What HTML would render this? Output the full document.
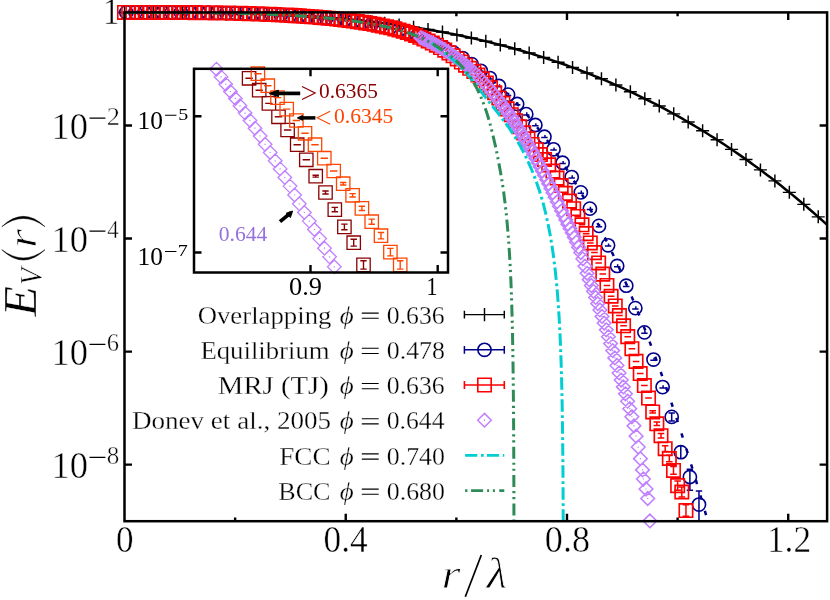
<!DOCTYPE html><html><head><meta charset="utf-8"><style>html,body{margin:0;padding:0;background:#fff}svg{display:block;will-change:transform}</style></head><body><svg width="830" height="600" viewBox="0 0 830 600">
<rect width="830" height="600" fill="#fff"/>
<defs><clipPath id="cp"><rect x="124.5" y="12.4" width="702.6" height="508.80000000000007"/></clipPath>
<clipPath id="ci"><rect x="194" y="68.8" width="254" height="203.7"/></clipPath></defs>
<path d="M345.74 521.2v-7.5M345.74 12.4v7.5M566.98 521.2v-7.5M566.98 12.4v7.5M788.22 521.2v-7.5M788.22 12.4v7.5M235.12 521.2v-3.8M235.12 12.4v3.8M456.36 521.2v-3.8M456.36 12.4v3.8M677.6 521.2v-3.8M677.6 12.4v3.8M124.5 125.46h7.5M827.1 125.46h-7.5M124.5 238.52h7.5M827.1 238.52h-7.5M124.5 351.58h7.5M827.1 351.58h-7.5M124.5 464.64h7.5M827.1 464.64h-7.5" stroke="#000" stroke-width="2.4" fill="none"/>
<g clip-path="url(#cp)"><path d="M124.5 12.4 L128.03 12.4 L131.56 12.4 L135.09 12.4 L138.62 12.4 L142.15 12.4 L145.68 12.41 L149.21 12.41 L152.75 12.41 L156.28 12.42 L159.81 12.43 L163.34 12.44 L166.87 12.45 L170.4 12.46 L173.93 12.47 L177.46 12.49 L180.99 12.51 L184.52 12.53 L188.05 12.56 L191.58 12.58 L195.11 12.62 L198.64 12.65 L202.17 12.69 L205.71 12.73 L209.24 12.77 L212.77 12.82 L216.3 12.87 L219.83 12.93 L223.36 12.99 L226.89 13.06 L230.42 13.13 L233.95 13.2 L237.48 13.28 L241.01 13.37 L244.54 13.46 L248.07 13.56 L251.6 13.66 L255.13 13.77 L258.66 13.88 L262.2 14 L265.73 14.12 L269.26 14.26 L272.79 14.4 L276.32 14.54 L279.85 14.7 L283.38 14.86 L286.91 15.02 L290.44 15.2 L293.97 15.38 L297.5 15.57 L301.03 15.77 L304.56 15.98 L308.09 16.19 L311.62 16.41 L315.16 16.64 L318.69 16.88 L322.22 17.13 L325.75 17.39 L329.28 17.66 L332.81 17.94 L336.34 18.22 L339.87 18.52 L343.4 18.82 L346.93 19.14 L350.46 19.47 L353.99 19.8 L357.52 20.15 L361.05 20.51 L364.58 20.87 L368.12 21.25 L371.65 21.64 L375.18 22.05 L378.71 22.46 L382.24 22.88 L385.77 23.32 L389.3 23.77 L392.83 24.23 L396.36 24.7 L399.89 25.19 L403.42 25.69 L406.95 26.2 L410.48 26.72 L414.01 27.26 L417.54 27.81 L421.07 28.37 L424.61 28.95 L428.14 29.54 L431.67 30.15 L435.2 30.77 L438.73 31.4 L442.26 32.05 L445.79 32.71 L449.32 33.39 L452.85 34.08 L456.38 34.79 L459.91 35.51 L463.44 36.25 L466.97 37 L470.5 37.77 L474.03 38.55 L477.57 39.35 L481.1 40.17 L484.63 41 L488.16 41.85 L491.69 42.72 L495.22 43.6 L498.75 44.5 L502.28 45.42 L505.81 46.35 L509.34 47.3 L512.87 48.27 L516.4 49.26 L519.93 50.27 L523.46 51.29 L526.99 52.33 L530.53 53.39 L534.06 54.47 L537.59 55.57 L541.12 56.68 L544.65 57.82 L548.18 58.97 L551.71 60.15 L555.24 61.34 L558.77 62.55 L562.3 63.79 L565.83 65.04 L569.36 66.31 L572.89 67.61 L576.42 68.92 L579.95 70.26 L583.48 71.61 L587.02 72.99 L590.55 74.39 L594.08 75.81 L597.61 77.25 L601.14 78.71 L604.67 80.2 L608.2 81.7 L611.73 83.23 L615.26 84.78 L618.79 86.36 L622.32 87.95 L625.85 89.57 L629.38 91.21 L632.91 92.88 L636.44 94.57 L639.98 96.28 L643.51 98.01 L647.04 99.77 L650.57 101.56 L654.1 103.36 L657.63 105.2 L661.16 107.05 L664.69 108.93 L668.22 110.84 L671.75 112.77 L675.28 114.72 L678.81 116.7 L682.34 118.71 L685.87 120.74 L689.4 122.8 L692.94 124.88 L696.47 126.99 L700 129.12 L703.53 131.29 L707.06 133.47 L710.59 135.69 L714.12 137.93 L717.65 140.2 L721.18 142.49 L724.71 144.82 L728.24 147.17 L731.77 149.55 L735.3 151.95 L738.83 154.39 L742.36 156.85 L745.89 159.34 L749.43 161.86 L752.96 164.4 L756.49 166.98 L760.02 169.59 L763.55 172.22 L767.08 174.88 L770.61 177.58 L774.14 180.3 L777.67 183.05 L781.2 185.83 L784.73 188.65 L788.26 191.49 L791.79 194.36 L795.32 197.27 L798.85 200.2 L802.39 203.17 L805.92 206.16 L809.45 209.19 L812.98 212.25 L816.51 215.34 L820.04 218.46 L823.57 221.61 L827.1 224.8" fill="none" stroke="#000" stroke-width="2.5"/></g>
<path d="M118 12.4h13M124.5 5.9v13M132.45 12.4h13M138.95 5.9v13M146.91 12.41h13M153.41 5.91v13M161.36 12.45h13M167.86 5.95v13M175.81 12.52h13M182.31 6.02v13M190.26 12.63h13M196.76 6.13v13M204.72 12.8h13M211.22 6.3v13M219.17 13.03h13M225.67 6.53v13M233.62 13.35h13M240.12 6.85v13M248.08 13.75h13M254.58 7.25v13M262.53 14.25h13M269.03 7.75v13M276.98 14.86h13M283.48 8.36v13M291.44 15.59h13M297.94 9.09v13M305.89 16.46h13M312.39 9.96v13M320.34 17.47h13M326.84 10.97v13M334.79 18.64h13M341.29 12.14v13M349.25 19.97h13M355.75 13.47v13M363.7 21.48h13M370.2 14.98v13M378.15 23.18h13M384.65 16.68v13M392.61 25.08h13M399.11 18.58v13M407.06 27.19h13M413.56 20.69v13M421.51 29.52h13M428.01 23.02v13M435.97 32.09h13M442.47 25.59v13M450.42 34.9h13M456.92 28.4v13M464.87 37.96h13M471.37 31.46v13M479.32 41.29h13M485.82 34.79v13M493.78 44.9h13M500.28 38.4v13M508.23 48.79h13M514.73 42.29v13M522.68 52.99h13M529.18 46.49v13M537.14 57.49h13M543.64 50.99v13M551.59 62.32h13M558.09 55.82v13M566.04 67.48h13M572.54 60.98v13M580.5 72.98h13M587 66.48v13M594.95 78.84h13M601.45 72.34v13M609.4 85.07h13M615.9 78.57v13M623.86 91.67h13M630.36 85.17v13M638.31 98.66h13M644.81 92.16v13M652.76 106.05h13M659.26 99.55v13M667.21 113.85h13M673.71 107.35v13M681.67 122.07h13M688.17 115.57v13M696.12 130.73h13M702.62 124.23v13M710.57 139.83h13M717.07 133.33v13M725.03 149.38h13M731.53 142.88v13M739.48 159.4h13M745.98 152.9v13M753.93 169.89h13M760.43 163.39v13M768.38 180.88h13M774.88 174.38v13M782.84 192.36h13M789.34 185.86v13M797.29 204.35h13M803.79 197.85v13M811.74 216.87h13M818.24 210.37v13" stroke="#000" stroke-width="1.45" fill="none"/>
<g clip-path="url(#cp)"><path d="M124.5 12.4 L125.99 12.4 L127.48 12.4 L128.98 12.4 L130.47 12.4 L131.96 12.4 L133.45 12.4 L134.95 12.4 L136.44 12.4 L137.93 12.4 L139.42 12.4 L140.92 12.4 L142.41 12.4 L143.9 12.4 L145.39 12.41 L146.89 12.41 L148.38 12.41 L149.87 12.41 L151.36 12.41 L152.86 12.41 L154.35 12.42 L155.84 12.42 L157.33 12.42 L158.83 12.42 L160.32 12.43 L161.81 12.43 L163.3 12.44 L164.8 12.44 L166.29 12.44 L167.78 12.45 L169.27 12.45 L170.77 12.46 L172.26 12.47 L173.75 12.47 L175.24 12.48 L176.74 12.49 L178.23 12.49 L179.72 12.5 L181.21 12.51 L182.71 12.52 L184.2 12.53 L185.69 12.54 L187.18 12.55 L188.68 12.56 L190.17 12.57 L191.66 12.58 L193.15 12.6 L194.65 12.61 L196.14 12.62 L197.63 12.64 L199.12 12.65 L200.62 12.67 L202.11 12.69 L203.6 12.7 L205.09 12.72 L206.59 12.74 L208.08 12.76 L209.57 12.78 L211.06 12.8 L212.56 12.82 L214.05 12.84 L215.54 12.86 L217.03 12.89 L218.53 12.91 L220.02 12.94 L221.51 12.96 L223 12.99 L224.5 13.02 L225.99 13.04 L227.48 13.07 L228.97 13.1 L230.47 13.13 L231.96 13.17 L233.45 13.2 L234.94 13.23 L236.44 13.27 L237.93 13.3 L239.42 13.34 L240.91 13.38 L242.41 13.42 L243.9 13.46 L245.39 13.5 L246.88 13.54 L248.38 13.58 L249.87 13.63 L251.36 13.67 L252.85 13.72 L254.35 13.77 L255.84 13.82 L257.33 13.87 L258.82 13.92 L260.32 13.97 L261.81 14.03 L263.3 14.08 L264.79 14.14 L266.29 14.2 L267.78 14.26 L269.27 14.32 L270.76 14.38 L272.26 14.44 L273.75 14.51 L275.24 14.58 L276.73 14.64 L278.23 14.71 L279.72 14.79 L281.21 14.86 L282.7 14.93 L284.2 15.01 L285.69 15.09 L287.18 15.17 L288.67 15.25 L290.17 15.33 L291.66 15.42 L293.15 15.5 L294.64 15.59 L296.14 15.68 L297.63 15.78 L299.12 15.87 L300.61 15.97 L302.11 16.07 L303.6 16.17 L305.09 16.27 L306.58 16.37 L308.08 16.48 L309.57 16.59 L311.06 16.7 L312.55 16.82 L314.05 16.93 L315.54 17.05 L317.03 17.17 L318.52 17.3 L320.02 17.42 L321.51 17.55 L323 17.68 L324.49 17.82 L325.98 17.95 L327.48 18.09 L328.97 18.24 L330.46 18.38 L331.95 18.53 L333.45 18.68 L334.94 18.84 L336.43 19 L337.92 19.16 L339.42 19.32 L340.91 19.49 L342.4 19.66 L343.89 19.84 L345.39 20.02 L346.88 20.2 L348.37 20.39 L349.86 20.58 L351.36 20.77 L352.85 20.97 L354.34 21.18 L355.83 21.38 L357.33 21.6 L358.82 21.81 L360.31 22.04 L361.8 22.26 L363.3 22.49 L364.79 22.73 L366.28 22.97 L367.77 23.22 L369.27 23.47 L370.76 23.73 L372.25 24 L373.74 24.27 L375.24 24.54 L376.73 24.83 L378.22 25.12 L379.71 25.42 L381.21 25.72 L382.7 26.03 L384.19 26.35 L385.68 26.68 L387.18 27.02 L388.67 27.36 L390.16 27.72 L391.65 28.08 L393.15 28.45 L394.64 28.84 L396.13 29.23 L397.62 29.63 L399.12 30.04 L400.61 30.46 L402.1 30.89 L403.59 31.32 L405.09 31.77 L406.58 32.23 L408.07 32.7 L409.56 33.18 L411.06 33.67 L412.55 34.17 L414.04 34.68 L415.53 35.21 L417.03 35.74 L418.52 36.29 L420.01 36.84 L421.5 37.41 L423 37.99 L424.49 38.58 L425.98 39.18 L427.47 39.8 L428.97 40.43 L430.46 41.07 L431.95 41.72 L433.44 42.38 L434.94 43.06 L436.43 43.75 L437.92 44.45 L439.41 45.17 L440.91 45.9 L442.4 46.64 L443.89 47.4 L445.38 48.17 L446.88 48.95 L448.37 49.75 L449.86 50.56 L451.35 51.39 L452.85 52.23 L454.34 53.08 L455.83 53.95 L457.32 54.83 L458.82 55.73 L460.31 56.65 L461.8 57.58 L463.29 58.52 L464.79 59.48 L466.28 60.46 L467.77 61.45 L469.26 62.45 L470.76 63.48 L472.25 64.52 L473.74 65.57 L475.23 66.64 L476.73 67.73 L478.22 68.84 L479.71 69.96 L481.2 71.1 L482.7 72.25 L484.19 73.43 L485.68 74.62 L487.17 75.82 L488.67 77.05 L490.16 78.29 L491.65 79.55 L493.14 80.83 L494.64 82.13 L496.13 83.44 L497.62 84.78 L499.11 86.13 L500.61 87.5 L502.1 88.89 L503.59 90.3 L505.08 91.73 L506.58 93.17 L508.07 94.64 L509.56 96.13 L511.05 97.63 L512.55 99.16 L514.04 100.7 L515.53 102.27 L517.02 103.85 L518.52 105.46 L520.01 107.09 L521.5 108.73 L522.99 110.4 L524.48 112.09 L525.98 113.8 L527.47 115.53 L528.96 117.28 L530.45 119.06 L531.95 120.85 L533.44 122.67 L534.93 124.51 L536.42 126.37 L537.92 128.25 L539.41 130.15 L540.9 132.08 L542.39 134.03 L543.89 136 L545.38 138 L546.87 140.02 L548.36 142.06 L549.86 144.12 L551.35 146.21 L552.84 148.32 L554.33 150.46 L555.83 152.61 L557.32 154.8 L558.81 157 L560.3 159.23 L561.8 161.49 L563.29 163.77 L564.78 166.07 L566.27 168.4 L567.77 170.75 L569.26 173.13 L570.75 175.53 L572.24 177.96 L573.74 180.42 L575.23 182.9 L576.72 185.4 L578.21 187.93 L579.71 190.49 L581.2 193.07 L582.69 195.68 L584.18 198.31 L585.68 200.98 L587.17 203.66 L588.66 206.38 L590.15 209.12 L591.65 211.89 L593.14 214.69 L594.63 217.51 L596.12 220.36 L597.62 223.24 L599.11 226.14 L600.6 229.08 L602.09 232.04 L603.59 235.03 L605.08 238.05 L606.57 241.09 L608.06 244.17 L609.56 247.27 L611.05 250.4 L612.54 253.56 L614.03 256.75 L615.53 259.97 L617.02 263.22 L618.51 266.5 L620 269.81 L621.5 273.15 L622.99 276.51 L624.48 279.91 L625.97 283.34 L627.47 286.8 L628.96 290.28 L630.45 293.8 L631.94 297.35 L633.44 300.93 L634.93 304.54 L636.42 308.18 L637.91 311.86 L639.41 315.56 L640.9 319.3 L642.39 323.07 L643.88 326.87 L645.38 330.7 L646.87 334.56 L648.36 338.46 L649.85 342.38 L651.35 346.35 L652.84 350.34 L654.33 354.36 L655.82 358.42 L657.32 362.51 L658.81 366.64 L660.3 370.8 L661.79 374.99 L663.29 379.21 L664.78 383.47 L666.27 387.76 L667.76 392.09 L669.26 396.45 L670.75 400.85 L672.24 405.27 L673.73 409.74 L675.23 414.24 L676.72 418.77 L678.21 423.34 L679.7 427.94 L681.2 432.58 L682.69 437.25 L684.18 441.96 L685.67 446.7 L687.17 451.48 L688.66 456.3 L690.15 461.15 L691.64 466.04 L693.14 470.96 L694.63 475.92 L696.12 480.92 L697.61 485.95 L699.11 491.02 L700.6 496.13 L702.09 501.28 L703.58 506.46 L705.08 511.68 L706.57 516.93 L708.06 522.23 L709.55 527.56 L711.05 532.93 L712.54 538.34 L714.03 543.78 L715.52 549.27 L717.02 554.79 L718.51 560.35 L720 565.95" fill="none" stroke="#00008b" stroke-width="2.5" stroke-dasharray="4.4 11.8" stroke-dashoffset="6"/></g>
<g fill="none" stroke="#00008b" stroke-width="1.6"><circle cx="126.3" cy="12.4" r="6.6"/><circle cx="135.39" cy="12.4" r="6.6"/><circle cx="144.48" cy="12.4" r="6.6"/><circle cx="153.57" cy="12.41" r="6.6"/><circle cx="162.66" cy="12.43" r="6.6"/><circle cx="171.75" cy="12.46" r="6.6"/><circle cx="180.84" cy="12.51" r="6.6"/><circle cx="189.93" cy="12.57" r="6.6"/><circle cx="199.02" cy="12.65" r="6.6"/><circle cx="208.11" cy="12.76" r="6.6"/><circle cx="217.2" cy="12.89" r="6.6"/><circle cx="226.29" cy="13.05" r="6.6"/><circle cx="235.38" cy="13.24" r="6.6"/><circle cx="244.47" cy="13.47" r="6.6"/><circle cx="253.56" cy="13.74" r="6.6"/><circle cx="262.65" cy="14.06" r="6.6"/><circle cx="271.74" cy="14.42" r="6.6"/><circle cx="280.83" cy="14.84" r="6.6"/><circle cx="289.92" cy="15.32" r="6.6"/><circle cx="299.01" cy="15.86" r="6.6"/><circle cx="308.1" cy="16.48" r="6.6"/><circle cx="317.19" cy="17.19" r="6.6"/><circle cx="326.28" cy="17.98" r="6.6"/><circle cx="335.37" cy="18.88" r="6.6"/><circle cx="344.46" cy="19.91" r="6.6"/><circle cx="353.55" cy="21.07" r="6.6"/><circle cx="362.64" cy="22.39" r="6.6"/><circle cx="371.73" cy="23.9" r="6.6"/><circle cx="380.82" cy="25.64" r="6.6"/><circle cx="389.91" cy="27.66" r="6.6"/><circle cx="399" cy="30" r="6.6"/><circle cx="408.09" cy="32.71" r="6.6"/><circle cx="417.18" cy="35.8" r="6.6"/><circle cx="426.27" cy="39.3" r="6.6"/><circle cx="435.36" cy="43.25" r="6.6"/><circle cx="444.45" cy="47.68" r="6.6"/><circle cx="453.54" cy="52.62" r="6.6"/><circle cx="462.63" cy="58.1" r="6.6"/><circle cx="471.72" cy="64.15" r="6.6"/><circle cx="480.81" cy="70.8" r="6.6"/><circle cx="489.9" cy="78.08" r="6.6"/><circle cx="498.99" cy="86.02" r="6.6"/><circle cx="508.08" cy="94.65" r="6.6"/><circle cx="517.17" cy="104.01" r="6.6"/><circle cx="526.26" cy="114.13" r="6.6"/><circle cx="535.35" cy="125.02" r="6.6"/><circle cx="544.44" cy="136.74" r="6.6"/><circle cx="553.53" cy="149.3" r="6.6"/><circle cx="562.62" cy="162.74" r="6.6"/><circle cx="571.71" cy="177.09" r="6.6"/><circle cx="580.8" cy="192.38" r="6.6"/><circle cx="589.89" cy="208.63" r="6.6"/><circle cx="598.98" cy="225.89" r="6.6"/><circle cx="608.07" cy="245.29" r="6.6"/><circle cx="617.16" cy="265.93" r="6.6"/><circle cx="626.25" cy="285.68" r="6.6"/><circle cx="635.34" cy="308.11" r="6.6"/><circle cx="644.43" cy="332.37" r="6.6"/><circle cx="653.52" cy="359.55" r="6.6"/><circle cx="662.61" cy="387.1" r="6.6"/><circle cx="671.7" cy="416.89" r="6.6"/><circle cx="680.79" cy="452.2" r="6.6"/><circle cx="689.88" cy="477" r="6.6"/><circle cx="698.97" cy="504.6" r="6.6"/><path d="M123.1 13.2h6.4M126.8 13.2v-2.6M132.19 13.2h6.4M135.89 13.2v-2.6M141.28 13.2h6.4M144.98 13.2v-2.6M150.37 13.21h6.4M154.07 13.21v-2.6M159.46 13.23h6.4M163.16 13.23v-2.6M168.55 13.26h6.4M172.25 13.26v-2.6M177.64 13.31h6.4M181.34 13.31v-2.6M186.73 13.37h6.4M190.43 13.37v-2.6M195.82 13.45h6.4M199.52 13.45v-2.6M204.91 13.56h6.4M208.61 13.56v-2.6M214 13.69h6.4M217.7 13.69v-2.6M223.09 13.85h6.4M226.79 13.85v-2.6M232.18 14.04h6.4M235.88 14.04v-2.6M241.27 14.27h6.4M244.97 14.27v-2.6M250.36 14.54h6.4M254.06 14.54v-2.6M259.45 14.86h6.4M263.15 14.86v-2.6M268.54 15.22h6.4M272.24 15.22v-2.6M277.63 15.64h6.4M281.33 15.64v-2.6M286.72 16.12h6.4M290.42 16.12v-2.6M295.81 16.66h6.4M299.51 16.66v-2.6M304.9 17.28h6.4M308.6 17.28v-2.6M313.99 17.99h6.4M317.69 17.99v-2.6M323.08 18.78h6.4M326.78 18.78v-2.6M332.17 19.68h6.4M335.87 19.68v-2.6M341.26 20.71h6.4M344.96 20.71v-2.6M350.35 21.87h6.4M354.05 21.87v-2.6M359.44 23.19h6.4M363.14 23.19v-2.6M368.53 24.7h6.4M372.23 24.7v-2.6M377.62 26.44h6.4M381.32 26.44v-2.6M386.71 28.46h6.4M390.41 28.46v-2.6M395.8 30.8h6.4M399.5 30.8v-2.6M404.89 33.51h6.4M408.59 33.51v-2.6M413.98 36.6h6.4M417.68 36.6v-2.6M423.07 40.1h6.4M426.77 40.1v-2.6M432.16 44.05h6.4M435.86 44.05v-2.6M441.25 48.48h6.4M444.95 48.48v-2.6M450.34 53.42h6.4M454.04 53.42v-2.6M459.43 58.9h6.4M463.13 58.9v-2.6M468.52 64.95h6.4M472.22 64.95v-2.6M477.61 71.6h6.4M481.31 71.6v-2.6M486.7 78.88h6.4M490.4 78.88v-2.6M495.79 86.82h6.4M499.49 86.82v-2.6M504.88 95.45h6.4M508.58 95.45v-2.6M513.97 104.81h6.4M517.67 104.81v-2.6M523.06 114.93h6.4M526.76 114.93v-2.6M532.15 125.82h6.4M535.85 125.82v-2.6M541.24 137.54h6.4M544.94 137.54v-2.6M550.33 150.1h6.4M554.03 150.1v-2.6M559.42 163.54h6.4M563.12 163.54v-2.6M568.51 177.89h6.4M572.21 177.89v-2.6M577.6 193.18h6.4M581.3 193.18v-2.6M586.69 209.43h6.4M590.39 209.43v-2.6M595.78 226.69h6.4M599.48 226.69v-2.6M604.87 246.09h6.4M608.57 246.09v-2.6M613.96 266.73h6.4M617.66 266.73v-2.6M623.05 286.48h6.4M626.75 286.48v-2.6M632.14 308.91h6.4M635.84 308.91v-2.6M641.23 333.17h6.4M644.93 333.17v-2.6M650.32 360.35h6.4M654.02 360.35v-2.6M659.41 387.9h6.4M663.11 387.9v-2.6M671.7 412.89v8M668.5 412.89h6.4M668.5 420.89h6.4M680.79 445.7v13M689.88 469.3V490.3M686.68 469.3h6.4M686.68 490.3h6.4M698.97 491V521.2M695.77 491h6.4" stroke-width="1.5"/></g>
<g fill="none" stroke="#ff0000"><path d="M117.8 5.7h13.4v13.4h-13.4zM121.96 5.7h13.4v13.4h-13.4zM126.12 5.7h13.4v13.4h-13.4zM130.28 5.7h13.4v13.4h-13.4zM134.44 5.7h13.4v13.4h-13.4zM138.59 5.71h13.4v13.4h-13.4zM142.75 5.71h13.4v13.4h-13.4zM146.91 5.72h13.4v13.4h-13.4zM151.07 5.72h13.4v13.4h-13.4zM155.23 5.73h13.4v13.4h-13.4zM159.39 5.74h13.4v13.4h-13.4zM163.55 5.76h13.4v13.4h-13.4zM167.71 5.78h13.4v13.4h-13.4zM171.87 5.8h13.4v13.4h-13.4zM176.03 5.82h13.4v13.4h-13.4zM180.19 5.85h13.4v13.4h-13.4zM184.34 5.88h13.4v13.4h-13.4zM188.5 5.92h13.4v13.4h-13.4zM192.66 5.96h13.4v13.4h-13.4zM196.82 6h13.4v13.4h-13.4zM200.98 6.05h13.4v13.4h-13.4zM205.14 6.11h13.4v13.4h-13.4zM209.3 6.17h13.4v13.4h-13.4zM213.46 6.24h13.4v13.4h-13.4zM217.62 6.31h13.4v13.4h-13.4zM221.78 6.39h13.4v13.4h-13.4zM225.93 6.48h13.4v13.4h-13.4zM230.09 6.58h13.4v13.4h-13.4zM234.25 6.68h13.4v13.4h-13.4zM238.41 6.79h13.4v13.4h-13.4zM242.57 6.91h13.4v13.4h-13.4zM246.73 7.04h13.4v13.4h-13.4zM250.89 7.18h13.4v13.4h-13.4zM255.05 7.32h13.4v13.4h-13.4zM259.21 7.48h13.4v13.4h-13.4zM263.37 7.65h13.4v13.4h-13.4zM267.52 7.83h13.4v13.4h-13.4zM271.68 8.02h13.4v13.4h-13.4zM275.84 8.22h13.4v13.4h-13.4zM280 8.44h13.4v13.4h-13.4zM284.16 8.67h13.4v13.4h-13.4zM288.32 8.92h13.4v13.4h-13.4zM292.48 9.17h13.4v13.4h-13.4zM296.64 9.45h13.4v13.4h-13.4zM300.8 9.74h13.4v13.4h-13.4zM304.95 10.05h13.4v13.4h-13.4zM309.11 10.37h13.4v13.4h-13.4zM313.27 10.72h13.4v13.4h-13.4zM317.43 11.09h13.4v13.4h-13.4zM321.59 11.47h13.4v13.4h-13.4zM325.75 11.88h13.4v13.4h-13.4zM329.91 12.32h13.4v13.4h-13.4zM334.07 12.78h13.4v13.4h-13.4zM338.23 13.26h13.4v13.4h-13.4zM342.39 13.78h13.4v13.4h-13.4zM346.55 14.33h13.4v13.4h-13.4zM350.7 14.91h13.4v13.4h-13.4zM354.86 15.53h13.4v13.4h-13.4zM359.02 16.18h13.4v13.4h-13.4zM363.18 16.88h13.4v13.4h-13.4zM367.34 17.62h13.4v13.4h-13.4zM371.5 18.42h13.4v13.4h-13.4zM375.66 19.26h13.4v13.4h-13.4zM379.82 20.17h13.4v13.4h-13.4zM383.98 21.14h13.4v13.4h-13.4zM388.13 22.19h13.4v13.4h-13.4zM392.29 23.31h13.4v13.4h-13.4zM396.45 24.53h13.4v13.4h-13.4zM400.61 25.85h13.4v13.4h-13.4zM404.77 27.29h13.4v13.4h-13.4zM408.93 28.87h13.4v13.4h-13.4zM413.09 30.6h13.4v13.4h-13.4zM417.25 32.37h13.4v13.4h-13.4zM421.41 34.28h13.4v13.4h-13.4zM425.57 36.32h13.4v13.4h-13.4zM429.73 38.51h13.4v13.4h-13.4zM433.88 40.84h13.4v13.4h-13.4zM438.04 43.4h13.4v13.4h-13.4zM442.2 46.18h13.4v13.4h-13.4zM446.36 49.14h13.4v13.4h-13.4zM450.52 52.21h13.4v13.4h-13.4zM454.68 55.33h13.4v13.4h-13.4zM458.84 58.45h13.4v13.4h-13.4zM463 61.61h13.4v13.4h-13.4zM467.16 64.88h13.4v13.4h-13.4zM471.31 68.36h13.4v13.4h-13.4zM475.47 72.12h13.4v13.4h-13.4zM479.63 76.3h13.4v13.4h-13.4zM483.79 80.97h13.4v13.4h-13.4zM487.95 86.01h13.4v13.4h-13.4zM492.11 91.29h13.4v13.4h-13.4zM496.27 96.67h13.4v13.4h-13.4zM500.43 102.15h13.4v13.4h-13.4zM504.59 107.95h13.4v13.4h-13.4zM508.75 113.97h13.4v13.4h-13.4zM512.9 120.07h13.4v13.4h-13.4zM517.06 126.16h13.4v13.4h-13.4zM521.22 132.1h13.4v13.4h-13.4zM525.38 137.78h13.4v13.4h-13.4zM529.54 143.03h13.4v13.4h-13.4zM533.7 147.9h13.4v13.4h-13.4zM537.86 152.82h13.4v13.4h-13.4zM542.02 158.19h13.4v13.4h-13.4zM546.18 164.39h13.4v13.4h-13.4zM550.34 171.38h13.4v13.4h-13.4zM554.49 178.9h13.4v13.4h-13.4zM558.65 186.67h13.4v13.4h-13.4zM562.81 194.43h13.4v13.4h-13.4zM566.97 201.98h13.4v13.4h-13.4zM571.13 209.71h13.4v13.4h-13.4zM575.29 218.08h13.4v13.4h-13.4zM579.45 226.93h13.4v13.4h-13.4zM583.61 236.21h13.4v13.4h-13.4zM587.77 245.91h13.4v13.4h-13.4zM591.93 256.21h13.4v13.4h-13.4zM596.08 267.41h13.4v13.4h-13.4zM600.24 278.78h13.4v13.4h-13.4zM604.4 289.55h13.4v13.4h-13.4zM608.56 299.29h13.4v13.4h-13.4zM612.72 308.9h13.4v13.4h-13.4zM616.88 319.14h13.4v13.4h-13.4zM621.04 329.94h13.4v13.4h-13.4zM625.2 341.96h13.4v13.4h-13.4zM629.36 354.69h13.4v13.4h-13.4zM633.52 366.81h13.4v13.4h-13.4zM637.67 378.86h13.4v13.4h-13.4zM641.83 391.32h13.4v13.4h-13.4zM645.99 405.2h13.4v13.4h-13.4zM650.15 417.1h13.4v13.4h-13.4zM654.31 429h13.4v13.4h-13.4zM658.47 442h13.4v13.4h-13.4zM662.63 451.8h13.4v13.4h-13.4zM666.79 463.7h13.4v13.4h-13.4zM670.95 478.9h13.4v13.4h-13.4zM675.11 485.3h13.4v13.4h-13.4zM679.26 503.8h13.4v13.4h-13.4z" stroke-width="1.65"/><path d="M121.2 12.4h6.6M125.36 12.4h6.6M129.52 12.4h6.6M133.68 12.4h6.6M137.84 12.4h6.6M141.99 12.41h6.6M146.15 12.41h6.6M150.31 12.42h6.6M154.47 12.42h6.6M158.63 12.43h6.6M162.79 12.44h6.6M166.95 12.46h6.6M171.11 12.48h6.6M175.27 12.5h6.6M179.43 12.52h6.6M183.58 12.55h6.6M187.74 12.58h6.6M191.9 12.62h6.6M196.06 12.66h6.6M200.22 12.7h6.6M204.38 12.75h6.6M208.54 12.81h6.6M212.7 12.87h6.6M216.86 12.94h6.6M221.02 13.01h6.6M225.17 13.09h6.6M229.33 13.18h6.6M233.49 13.28h6.6M237.65 13.38h6.6M241.81 13.49h6.6M245.97 13.61h6.6M250.13 13.74h6.6M254.29 13.88h6.6M258.45 14.02h6.6M262.61 14.18h6.6M266.76 14.35h6.6M270.92 14.53h6.6M275.08 14.72h6.6M279.24 14.92h6.6M283.4 15.14h6.6M287.56 15.37h6.6M291.72 15.62h6.6M295.88 15.87h6.6M300.04 16.15h6.6M304.2 16.44h6.6M308.35 16.75h6.6M312.51 17.07h6.6M316.67 17.42h6.6M320.83 17.79h6.6M324.99 18.17h6.6M329.15 18.58h6.6M333.31 19.02h6.6M337.47 19.48h6.6M341.63 19.96h6.6M345.79 20.48h6.6M349.94 21.03h6.6M354.1 21.61h6.6M358.26 22.23h6.6M362.42 22.88h6.6M366.58 23.58h6.6M370.74 24.32h6.6M374.9 25.12h6.6M379.06 25.96h6.6M383.22 26.87h6.6M387.38 27.84h6.6M391.53 28.89h6.6M395.69 30.01h6.6M399.85 31.23h6.6M404.01 32.55h6.6M408.17 33.99h6.6M412.33 35.57h6.6M416.49 37.3h6.6M420.65 39.07h6.6M424.81 40.98h6.6M428.97 43.02h6.6M433.12 45.21h6.6M437.28 47.54h6.6M441.44 50.1h6.6M445.6 52.88h6.6M449.76 55.84h6.6M453.92 58.91h6.6M458.08 62.03h6.6M462.24 65.15h6.6M466.4 68.31h6.6M470.56 71.58h6.6M474.71 75.06h6.6M478.87 78.82h6.6M483.03 83h6.6M487.19 87.67h6.6M491.35 92.71h6.6M495.51 97.99h6.6M499.67 103.37h6.6M503.83 108.85h6.6M507.99 114.65h6.6M512.15 120.67h6.6M516.31 126.77h6.6M520.46 132.86h6.6M524.62 138.8h6.6M528.78 144.48h6.6M532.94 149.73h6.6M537.1 154.6h6.6M541.26 159.52h6.6M545.42 164.89h6.6M549.58 171.09h6.6M553.74 178.08h6.6M557.89 185.6h6.6M562.05 193.37h6.6M566.21 201.13h6.6M570.37 208.68h6.6M574.53 216.41h6.6M578.69 224.78h6.6M582.85 233.63h6.6M587.01 242.91h6.6M591.17 252.61h6.6M595.33 262.91h6.6M599.49 274.11h6.6M603.64 285.48h6.6M607.8 296.25h6.6M611.96 305.99h6.6M616.12 315.6h6.6M620.28 325.84h6.6M624.44 336.64h6.6M628.6 348.66h6.6M632.76 361.39h6.6M636.92 373.51h6.6M641.08 385.56h6.6M645.23 398.02h6.6M649.39 410.74h6.6M649.39 413.06h6.6M652.69 410.74v2.33M653.55 422.07h6.6M653.55 425.53h6.6M656.85 422.07v3.45M657.71 433.41h6.6M657.71 437.99h6.6M661.01 433.41v4.58M661.87 445.8h6.6M661.87 451.6h6.6M665.17 445.8v5.8M666.03 455.13h6.6M666.03 461.87h6.6M669.33 455.13v6.73M670.19 466.47h6.6M670.19 474.33h6.6M673.49 466.47v7.86M674.35 480.95h6.6M674.35 490.25h6.6M677.65 480.95v9.29M678.51 487.05h6.6M678.51 496.95h6.6M681.81 487.05v9.9M682.66 504.68h6.6M682.66 516.32h6.6M685.96 504.68v11.65" stroke-width="1.5"/></g>
<g fill="none" stroke="#c080ff"><path d="M414 37.76L420.8 30.96L427.6 37.76L420.8 44.56zM416.13 38.66L422.93 31.86L429.73 38.66L422.93 45.46zM418.26 39.61L425.06 32.81L431.86 39.61L425.06 46.41zM420.4 40.59L427.2 33.79L434 40.59L427.2 47.39zM422.53 41.6L429.33 34.8L436.13 41.6L429.33 48.4zM424.66 42.65L431.46 35.85L438.26 42.65L431.46 49.45zM426.79 43.73L433.59 36.93L440.39 43.73L433.59 50.53zM428.92 44.85L435.72 38.05L442.52 44.85L435.72 51.65zM431.06 46.01L437.86 39.21L444.66 46.01L437.86 52.81zM433.19 47.19L439.99 40.39L446.79 47.19L439.99 53.99zM435.32 48.43L442.12 41.63L448.92 48.43L442.12 55.23zM437.45 49.74L444.25 42.94L451.05 49.74L444.25 56.54zM439.58 51.1L446.38 44.3L453.18 51.1L446.38 57.9zM441.72 52.51L448.52 45.71L455.32 52.51L448.52 59.31zM443.85 53.96L450.65 47.16L457.45 53.96L450.65 60.76zM445.98 55.44L452.78 48.64L459.58 55.44L452.78 62.24zM448.11 56.94L454.91 50.14L461.71 56.94L454.91 63.74zM450.24 58.45L457.04 51.65L463.84 58.45L457.04 65.25zM452.38 59.98L459.18 53.18L465.98 59.98L459.18 66.78zM454.51 61.55L461.31 54.75L468.11 61.55L461.31 68.35zM456.64 63.16L463.44 56.36L470.24 63.16L463.44 69.96zM458.77 64.82L465.57 58.02L472.37 64.82L465.57 71.62zM460.9 66.55L467.7 59.75L474.5 66.55L467.7 73.35zM463.04 68.36L469.84 61.56L476.64 68.36L469.84 75.16zM465.17 70.26L471.97 63.46L478.77 70.26L471.97 77.06zM467.3 72.27L474.1 65.47L480.9 72.27L474.1 79.07zM469.43 74.37L476.23 67.57L483.03 74.37L476.23 81.17zM471.56 76.55L478.36 69.75L485.16 76.55L478.36 83.35zM473.7 78.79L480.5 71.99L487.3 78.79L480.5 85.59zM475.83 81.09L482.63 74.29L489.43 81.09L482.63 87.89zM477.96 83.44L484.76 76.64L491.56 83.44L484.76 90.24zM480.09 85.84L486.89 79.04L493.69 85.84L486.89 92.64zM482.22 88.29L489.02 81.49L495.82 88.29L489.02 95.09zM484.36 90.8L491.16 84L497.96 90.8L491.16 97.6zM486.49 93.36L493.29 86.56L500.09 93.36L493.29 100.16zM488.62 95.98L495.42 89.18L502.22 95.98L495.42 102.78zM490.75 98.66L497.55 91.86L504.35 98.66L497.55 105.46zM492.88 101.4L499.68 94.6L506.48 101.4L499.68 108.2zM495.02 104.2L501.82 97.4L508.62 104.2L501.82 111zM497.15 107.06L503.95 100.26L510.75 107.06L503.95 113.86zM499.28 109.99L506.08 103.19L512.88 109.99L506.08 116.79zM501.41 113L508.21 106.2L515.01 113L508.21 119.8zM503.54 116.08L510.34 109.28L517.14 116.08L510.34 122.88zM505.68 119.24L512.48 112.44L519.28 119.24L512.48 126.04zM507.81 122.48L514.61 115.68L521.41 122.48L514.61 129.28zM509.94 125.78L516.74 118.98L523.54 125.78L516.74 132.58zM512.07 129.15L518.87 122.35L525.67 129.15L518.87 135.95zM514.2 132.58L521 125.78L527.8 132.58L521 139.38zM516.34 136.08L523.14 129.28L529.94 136.08L523.14 142.88zM518.47 139.64L525.27 132.84L532.07 139.64L525.27 146.44zM520.6 143.25L527.4 136.45L534.2 143.25L527.4 150.05zM522.73 146.92L529.53 140.12L536.33 146.92L529.53 153.72zM524.86 150.71L531.66 143.91L538.46 150.71L531.66 157.51zM527 154.61L533.8 147.81L540.6 154.61L533.8 161.41zM529.13 158.61L535.93 151.81L542.73 158.61L535.93 165.41zM531.26 162.7L538.06 155.9L544.86 162.7L538.06 169.5zM533.39 166.86L540.19 160.06L546.99 166.86L540.19 173.66zM535.52 171.07L542.32 164.27L549.12 171.07L542.32 177.87zM537.66 175.31L544.46 168.51L551.26 175.31L544.46 182.11zM539.79 179.58L546.59 172.78L553.39 179.58L546.59 186.38zM541.92 183.87L548.72 177.07L555.52 183.87L548.72 190.67zM544.05 188.25L550.85 181.45L557.65 188.25L550.85 195.05zM546.18 192.68L552.98 185.88L559.78 192.68L552.98 199.48zM548.32 197.16L555.12 190.36L561.92 197.16L555.12 203.96zM550.45 201.68L557.25 194.88L564.05 201.68L557.25 208.48zM552.58 206.23L559.38 199.43L566.18 206.23L559.38 213.03zM554.71 210.81L561.51 204.01L568.31 210.81L561.51 217.61zM556.84 215.37L563.64 208.57L570.44 215.37L563.64 222.17zM558.98 219.81L565.78 213.01L572.58 219.81L565.78 226.61zM561.11 224.15L567.91 217.35L574.71 224.15L567.91 230.95zM563.24 228.47L570.04 221.67L576.84 228.47L570.04 235.27zM565.37 232.85L572.17 226.05L578.97 232.85L572.17 239.65zM567.5 237.37L574.3 230.57L581.1 237.37L574.3 244.17zM569.64 242.12L576.44 235.32L583.24 242.12L576.44 248.92zM571.77 247.17L578.57 240.37L585.37 247.17L578.57 253.97zM573.9 252.61L580.7 245.81L587.5 252.61L580.7 259.41zM576.03 258.82L582.83 252.02L589.63 258.82L582.83 265.62zM578.16 266.14L584.96 259.34L591.76 266.14L584.96 272.94zM580.3 273.35L587.1 266.55L593.9 273.35L587.1 280.15zM582.43 279.63L589.23 272.83L596.03 279.63L589.23 286.43zM584.56 285.5L591.36 278.7L598.16 285.5L591.36 292.3zM586.69 291.37L593.49 284.57L600.29 291.37L593.49 298.17zM588.82 297.47L595.62 290.67L602.42 297.47L595.62 304.27zM590.96 303.63L597.76 296.83L604.56 303.63L597.76 310.43zM593.09 309.93L599.89 303.13L606.69 309.93L599.89 316.73zM595.22 316.42L602.02 309.62L608.82 316.42L602.02 323.22zM597.35 323.09L604.15 316.29L610.95 323.09L604.15 329.89zM599.48 329.87L606.28 323.07L613.08 329.87L606.28 336.67zM601.62 336.69L608.42 329.89L615.22 336.69L608.42 343.49zM603.75 343.58L610.55 336.78L617.35 343.58L610.55 350.38zM605.88 350.61L612.68 343.81L619.48 350.61L612.68 357.41zM608.01 357.9L614.81 351.1L621.61 357.9L614.81 364.7zM610.14 365.45L616.94 358.65L623.74 365.45L616.94 372.25zM612.28 372.93L619.08 366.13L625.88 372.93L619.08 379.73zM614.41 380.04L621.21 373.24L628.01 380.04L621.21 386.84zM616.54 386.89L623.34 380.09L630.14 386.89L623.34 393.69zM618.67 393.86L625.47 387.06L632.27 393.86L625.47 400.66zM620.8 401.18L627.6 394.38L634.4 401.18L627.6 407.98zM622.94 408.69L629.74 401.89L636.54 408.69L629.74 415.49zM625.07 416.75L631.87 409.95L638.67 416.75L631.87 423.55zM627.2 425.87L634 419.07L640.8 425.87L634 432.67zM629.33 436.16L636.13 429.36L642.93 436.16L636.13 442.96zM631.46 447.07L638.26 440.27L645.06 447.07L638.26 453.87zM633.6 458.64L640.4 451.84L647.2 458.64L640.4 465.44zM635.73 469.88L642.53 463.08L649.33 469.88L642.53 476.68zM636.6 479L643.4 472.2L650.2 479L643.4 485.8zM639.2 489L646 482.2L652.8 489L646 495.8zM640.9 498.5L647.7 491.7L654.5 498.5L647.7 505.3zM643.1 520.9L649.9 514.1L656.7 520.9L649.9 527.7z" stroke-width="1.55"/><path d="M420.2 37.76h1.2M422.33 38.66h1.2M424.46 39.61h1.2M426.6 40.59h1.2M428.73 41.6h1.2M430.86 42.65h1.2M432.99 43.73h1.2M435.12 44.85h1.2M437.26 46.01h1.2M439.39 47.19h1.2M441.52 48.43h1.2M443.65 49.74h1.2M445.78 51.1h1.2M447.92 52.51h1.2M450.05 53.96h1.2M452.18 55.44h1.2M454.31 56.94h1.2M456.44 58.45h1.2M458.58 59.98h1.2M460.71 61.55h1.2M462.84 63.16h1.2M464.97 64.82h1.2M467.1 66.55h1.2M469.24 68.36h1.2M471.37 70.26h1.2M473.5 72.27h1.2M475.63 74.37h1.2M477.76 76.55h1.2M479.9 78.79h1.2M482.03 81.09h1.2M484.16 83.44h1.2M486.29 85.84h1.2M488.42 88.29h1.2M490.56 90.8h1.2M492.69 93.36h1.2M494.82 95.98h1.2M496.95 98.66h1.2M499.08 101.4h1.2M501.22 104.2h1.2M503.35 107.06h1.2M505.48 109.99h1.2M507.61 113h1.2M509.74 116.08h1.2M511.88 119.24h1.2M514.01 122.48h1.2M516.14 125.78h1.2M518.27 129.15h1.2M520.4 132.58h1.2M522.54 136.08h1.2M524.67 139.64h1.2M526.8 143.25h1.2M528.93 146.92h1.2M531.06 150.71h1.2M533.2 154.61h1.2M535.33 158.61h1.2M537.46 162.7h1.2M539.59 166.86h1.2M541.72 171.07h1.2M543.86 175.31h1.2M545.99 179.58h1.2M548.12 183.87h1.2M550.25 188.25h1.2M552.38 192.68h1.2M554.52 197.16h1.2M556.65 201.68h1.2M558.78 206.23h1.2M560.91 210.81h1.2M563.04 215.37h1.2M565.18 219.81h1.2M567.31 224.15h1.2M569.44 228.47h1.2M571.57 232.85h1.2M573.7 237.37h1.2M575.84 242.12h1.2M577.97 247.17h1.2M580.1 252.61h1.2M582.23 258.82h1.2M584.36 266.14h1.2M586.5 273.35h1.2M588.63 279.63h1.2M590.76 285.5h1.2M592.89 291.37h1.2M595.02 297.47h1.2M597.16 303.63h1.2M599.29 309.93h1.2M601.42 316.42h1.2M603.55 323.09h1.2M605.68 329.87h1.2M607.82 336.69h1.2M609.95 343.58h1.2M612.08 350.61h1.2M614.21 357.9h1.2M616.34 365.45h1.2M618.48 372.93h1.2M620.61 380.04h1.2M622.74 386.89h1.2M624.87 393.86h1.2M627 401.18h1.2M629.14 408.69h1.2M631.27 416.75h1.2M633.4 425.87h1.2M635.53 436.16h1.2M637.66 447.07h1.2M639.8 458.64h1.2M641.93 469.88h1.2M642.8 479h1.2M645.4 489h1.2M647.1 498.5h1.2M649.3 520.9h1.2" stroke-width="1.2"/></g>
<g clip-path="url(#cp)" fill="none" stroke-width="3.0">
<path d="M431.47 43.31 L432.57 43.99 L433.67 44.68 L434.77 45.41 L435.87 46.16 L436.97 46.92 L438.07 47.7 L439.17 48.48 L440.27 49.29 L441.37 50.1 L442.47 50.92 L443.57 51.77 L444.67 52.62 L445.77 53.51 L446.87 54.39 L447.97 55.3 L449.07 56.21 L450.17 57.15 L451.27 58.11 L452.37 59.08 L453.47 60.07 L454.57 61.07 L455.67 62.12 L456.77 63.16 L457.87 64.24 L458.97 65.33 L460.07 66.45 L461.17 67.57 L462.27 68.73 L463.37 69.91 L464.47 71.12 L465.57 72.34 L466.67 73.58 L467.77 74.86 L468.88 76.15 L469.98 77.45 L471.08 78.78 L472.18 80.16 L473.28 81.52 L474.38 82.93 L475.48 84.34 L476.58 85.75 L477.68 87.2 L478.78 88.63 L479.88 90.08 L480.98 91.52 L482.08 92.95 L483.18 94.37 L484.28 95.77 L485.38 97.15 L486.48 98.54 L487.58 99.91 L488.68 101.32 L489.78 102.7 L490.88 104.07 L491.98 105.47 L493.08 106.81 L494.18 108.24 L495.28 109.61 L496.38 111 L497.48 112.42 L498.58 113.79 L499.68 115.26 L500.78 116.66 L501.88 118.09 L502.98 119.6 L504.08 121 L505.18 122.56 L506.28 124.07 L507.38 125.61 L508.48 127.21 L509.58 128.73 L510.68 130.44 L511.78 132.11 L512.88 133.75 L513.98 135.53 L515.09 137.2 L516.19 139.08 L517.29 140.87 L518.39 142.75 L519.49 144.77 L520.59 146.48 L521.69 148.72 L522.79 150.74 L523.89 152.74 L526.1 157.39 L531.29 168.72 L535.76 180 L539.61 191.25 L542.93 202.47 L545.78 213.66 L548.24 224.82 L550.36 235.97 L552.18 247.1 L553.76 258.21 L555.11 269.3 L556.27 280.39 L557.28 291.46 L558.14 302.53 L558.88 313.59 L559.52 324.64 L560.07 335.68 L560.55 346.72 L560.96 357.76 L561.31 368.79 L561.61 379.82 L561.88 390.85 L562.1 401.87 L562.29 412.89 L562.46 423.91 L562.6 434.93 L562.73 445.95 L562.83 456.96 L562.93 467.98 L563.01 478.99 L563.07 490.01 L563.13 501.02 L563.18 512.03 L563.23 523.05 L563.26 534.06 L563.3 545.07 L563.32 556.08 L563.35 567.09 L563.37 578.1 L563.39 589.11 L563.4 600.12 L563.41 611.13 L563.43 622.14 L563.44 633.15 L563.44 644.16 L563.45 655.17 L563.46 666.18 L563.46 677.19 L563.47 688.2 L563.47 699.21 L563.47 710.22 L563.48 721.22 L563.48 732.23 L563.48 743.24 L563.48 754.25 L563.49 765.26 L563.49 776.27 L563.49 787.28 L563.49 798.29 L563.49 809.3" stroke="#00ced1" stroke-dasharray="12.4 3.6 2.7 3.3"/>
<path d="M124.5 12.4 L125.48 12.4 L126.45 12.4 L127.43 12.4 L128.41 12.4 L129.38 12.4 L130.36 12.4 L131.33 12.4 L132.31 12.4 L133.29 12.4 L134.26 12.4 L135.24 12.4 L136.22 12.4 L137.19 12.4 L138.17 12.4 L139.15 12.4 L140.12 12.4 L141.1 12.4 L142.07 12.4 L143.05 12.4 L144.03 12.4 L145 12.41 L145.98 12.41 L146.96 12.41 L147.93 12.41 L148.91 12.41 L149.88 12.41 L150.86 12.41 L151.84 12.41 L152.81 12.41 L153.79 12.42 L154.77 12.42 L155.74 12.42 L156.72 12.42 L157.7 12.42 L158.67 12.42 L159.65 12.43 L160.62 12.43 L161.6 12.43 L162.58 12.43 L163.55 12.44 L164.53 12.44 L165.51 12.44 L166.48 12.45 L167.46 12.45 L168.44 12.45 L169.41 12.46 L170.39 12.46 L171.36 12.46 L172.34 12.47 L173.32 12.47 L174.29 12.48 L175.27 12.48 L176.25 12.48 L177.22 12.49 L178.2 12.49 L179.17 12.5 L180.15 12.5 L181.13 12.51 L182.1 12.52 L183.08 12.52 L184.06 12.53 L185.03 12.54 L186.01 12.54 L186.99 12.55 L187.96 12.56 L188.94 12.56 L189.91 12.57 L190.89 12.58 L191.87 12.59 L192.84 12.59 L193.82 12.6 L194.8 12.61 L195.77 12.62 L196.75 12.63 L197.73 12.64 L198.7 12.65 L199.68 12.66 L200.65 12.67 L201.63 12.68 L202.61 12.69 L203.58 12.7 L204.56 12.71 L205.54 12.73 L206.51 12.74 L207.49 12.75 L208.46 12.76 L209.44 12.78 L210.42 12.79 L211.39 12.8 L212.37 12.82 L213.35 12.83 L214.32 12.84 L215.3 12.86 L216.28 12.87 L217.25 12.89 L218.23 12.91 L219.2 12.92 L220.18 12.94 L221.16 12.95 L222.13 12.97 L223.11 12.99 L224.09 13.01 L225.06 13.03 L226.04 13.04 L227.02 13.06 L227.99 13.08 L228.97 13.1 L229.94 13.12 L230.92 13.14 L231.9 13.16 L232.87 13.19 L233.85 13.21 L234.83 13.23 L235.8 13.25 L236.78 13.28 L237.75 13.3 L238.73 13.32 L239.71 13.35 L240.68 13.37 L241.66 13.4 L242.64 13.42 L243.61 13.45 L244.59 13.48 L245.57 13.5 L246.54 13.53 L247.52 13.56 L248.49 13.59 L249.47 13.62 L250.45 13.65 L251.42 13.68 L252.4 13.71 L253.38 13.74 L254.35 13.77 L255.33 13.8 L256.31 13.83 L257.28 13.87 L258.26 13.9 L259.23 13.93 L260.21 13.97 L261.19 14 L262.16 14.04 L263.14 14.08 L264.12 14.11 L265.09 14.15 L266.07 14.19 L267.04 14.23 L268.02 14.27 L269 14.31 L269.97 14.35 L270.95 14.39 L271.93 14.43 L272.9 14.47 L273.88 14.51 L274.86 14.56 L275.83 14.6 L276.81 14.65 L277.78 14.69 L278.76 14.74 L279.74 14.79 L280.71 14.83 L281.69 14.88 L282.67 14.93 L283.64 14.98 L284.62 15.03 L285.6 15.08 L286.57 15.13 L287.55 15.19 L288.52 15.24 L289.5 15.29 L290.48 15.35 L291.45 15.41 L292.43 15.46 L293.41 15.52 L294.38 15.58 L295.36 15.64 L296.34 15.7 L297.31 15.76 L298.29 15.82 L299.26 15.88 L300.24 15.94 L301.22 16.01 L302.19 16.07 L303.17 16.14 L304.15 16.2 L305.12 16.27 L306.1 16.34 L307.07 16.41 L308.05 16.48 L309.03 16.55 L310 16.62 L310.98 16.7 L311.96 16.77 L312.93 16.85 L313.91 16.92 L314.89 17 L315.86 17.08 L316.84 17.16 L317.81 17.24 L318.79 17.32 L319.77 17.4 L320.74 17.49 L321.72 17.57 L322.7 17.66 L323.67 17.74 L324.65 17.83 L325.63 17.92 L326.6 18.01 L327.58 18.1 L328.55 18.2 L329.53 18.29 L330.51 18.39 L331.48 18.49 L332.46 18.58 L333.44 18.68 L334.41 18.78 L335.39 18.89 L336.36 18.99 L337.34 19.1 L338.32 19.2 L339.29 19.31 L340.27 19.42 L341.25 19.53 L342.22 19.64 L343.2 19.76 L344.18 19.87 L345.15 19.99 L346.13 20.11 L347.1 20.23 L348.08 20.35 L349.06 20.48 L350.03 20.6 L351.01 20.73 L351.99 20.86 L352.96 20.99 L353.94 21.12 L354.92 21.26 L355.89 21.39 L356.87 21.53 L357.84 21.67 L358.82 21.81 L359.8 21.96 L360.77 22.11 L361.75 22.25 L362.73 22.4 L363.7 22.56 L364.68 22.71 L365.65 22.87 L366.63 23.03 L367.61 23.19 L368.58 23.36 L369.56 23.52 L370.54 23.69 L371.51 23.86 L372.49 24.04 L373.47 24.22 L374.44 24.4 L375.42 24.58 L376.39 24.76 L377.37 24.95 L378.35 25.14 L379.32 25.34 L380.3 25.54 L381.28 25.74 L382.25 25.94 L383.23 26.15 L384.21 26.36 L385.18 26.57 L386.16 26.79 L387.13 27.01 L388.11 27.23 L389.09 27.46 L390.06 27.69 L391.04 27.93 L392.02 28.17 L392.99 28.41 L393.97 28.66 L394.94 28.92 L395.92 29.17 L396.9 29.43 L397.87 29.7 L398.85 29.97 L399.83 30.25 L400.8 30.53 L401.78 30.82 L402.76 31.11 L403.73 31.41 L404.71 31.71 L405.68 32.02 L406.66 32.34 L407.64 32.66 L408.61 32.99 L409.59 33.33 L410.57 33.67 L411.54 34.02 L412.52 34.38 L413.5 34.75 L414.47 35.12 L415.45 35.5 L416.42 35.89 L417.4 36.29 L418.38 36.7 L419.35 37.12 L420.33 37.54 L421.31 37.98 L422.28 38.43 L423.26 38.9 L424.24 39.37 L425.21 39.86 L426.19 40.35 L427.16 40.86 L428.14 41.38 L429.12 41.9 L430.09 42.44 L431.07 42.98 L432.05 43.53 L433.02 44.08 L434 44.66 L434.97 45.23 L435.95 45.81 L436.93 46.41 L437.9 47.01 L438.88 47.62 L439.86 48.25 L440.83 48.89 L441.81 49.54 L442.79 50.2 L443.76 50.87 L444.74 51.56 L445.71 52.26 L446.69 52.97 L447.67 53.69 L448.64 54.44 L449.62 55.19 L450.6 55.97 L451.57 56.76 L452.55 57.57 L453.53 58.4 L454.5 59.25 L455.48 60.12 L456.45 61.01 L457.43 61.93 L458.41 62.87 L459.38 63.84 L460.36 64.83 L461.34 65.85 L462.31 66.9 L463.29 67.99 L464.26 69.12 L465.24 70.28 L466.22 71.49 L467.19 72.74 L468.17 74.04 L469.15 75.41 L470.12 76.81 L471.1 78.29 L472.08 79.83 L473.05 81.46 L474.03 83.15 L475 84.91 L475.98 86.72 L476.96 88.62 L477.93 90.58 L478.91 92.61 L479.89 94.73 L480.86 96.96 L481.84 99.27 L482.82 101.69 L483.79 104.23 L484.77 106.91 L485.74 109.7 L486.72 112.64 L487.7 115.76 L488.67 119.04 L489.65 122.46 L490.63 126.15 L491.6 129.9 L492.58 133.92 L493.55 137.95 L494.53 142.22 L495.51 146.4 L496.48 150.9 L498.7 162.44 L500.63 172.71 L502.32 182.95 L503.79 193.14 L505.08 203.3 L506.21 213.43 L507.2 223.53 L508.06 233.61 L508.82 243.66 L509.48 253.7 L510.05 263.72 L510.56 273.72 L511 283.72 L511.38 293.7 L511.72 303.67 L512.01 313.63 L512.27 323.58 L512.49 333.53 L512.69 343.47 L512.86 353.41 L513.01 363.34 L513.14 373.27 L513.26 383.19 L513.36 393.11 L513.45 403.03 L513.52 412.94 L513.59 422.86 L513.65 432.77 L513.7 442.68 L513.75 452.58 L513.79 462.49 L513.82 472.4 L513.85 482.3 L513.88 492.21 L513.9 502.11 L513.92 512.01 L513.94 521.92 L513.95 531.82 L513.96 541.72 L513.98 551.62 L513.99 561.52 L514 571.42 L514 581.32 L514.01 591.22 L514.02 601.12 L514.02 611.02 L514.03 620.92 L514.03 630.82 L514.03 640.72 L514.04 650.62 L514.04 660.52 L514.04 670.41 L514.04 680.31 L514.05 690.21 L514.05 700.11 L514.05 710.01 L514.05 719.91 L514.05 729.81 L514.05 739.71 L514.05 749.6" stroke="#2e8b57" stroke-dasharray="12 4 2.2 3.8 2.2 4.2"/>
</g>
<rect x="124.5" y="12.4" width="702.6" height="508.80000000000007" fill="none" stroke="#000" stroke-width="2.5"/>
<g style="font-family:'Liberation Serif',serif" fill="#000" stroke="#fff" stroke-width="0.45">
<text x="115.88" y="551.60" font-size="37" textLength="17.55" lengthAdjust="spacingAndGlyphs">0</text>
<text x="323.57" y="551.60" font-size="37" textLength="44.11" lengthAdjust="spacingAndGlyphs">0.4</text>
<text x="544.84" y="551.60" font-size="37" textLength="45.13" lengthAdjust="spacingAndGlyphs">0.8</text>
<text x="766.89" y="551.60" font-size="37" textLength="44.22" lengthAdjust="spacingAndGlyphs">1.2</text>
<text x="102.88" y="23.90" font-size="37" textLength="16.37" lengthAdjust="spacingAndGlyphs">1</text>
<text x="51.60" y="138.76" font-size="37" textLength="36.48" lengthAdjust="spacingAndGlyphs">10</text>
<text x="106.71" y="124.76" font-size="24.3" textLength="13.22" lengthAdjust="spacingAndGlyphs">2</text>
<text x="51.60" y="251.82" font-size="37" textLength="36.48" lengthAdjust="spacingAndGlyphs">10</text>
<text x="107.33" y="237.82" font-size="24.3" textLength="11.45" lengthAdjust="spacingAndGlyphs">4</text>
<text x="51.60" y="364.88" font-size="37" textLength="36.48" lengthAdjust="spacingAndGlyphs">10</text>
<text x="106.79" y="350.88" font-size="24.3" textLength="12.27" lengthAdjust="spacingAndGlyphs">6</text>
<text x="51.60" y="477.94" font-size="37" textLength="36.48" lengthAdjust="spacingAndGlyphs">10</text>
<text x="106.77" y="463.94" font-size="24.3" textLength="12.57" lengthAdjust="spacingAndGlyphs">8</text>
<path d="M89.5 118.16H105.4M89.5 231.22H105.4M89.5 344.28H105.4M89.5 457.34H105.4" stroke="#000" stroke-width="1.25" fill="none"/>
<text x="441.55" y="587.50" font-size="39.57" textLength="19.04" lengthAdjust="spacingAndGlyphs" font-style="italic" stroke="#fff" stroke-width="0.8">r</text>
<path d="M465.3 596.8L481.3 555" stroke="#000" stroke-width="1.7" fill="none"/>
<text x="486.86" y="587.50" font-size="44.18" textLength="20.35" lengthAdjust="spacingAndGlyphs" font-style="italic" stroke="#fff" stroke-width="0.8">λ</text>
<g transform="translate(36,317) rotate(-90)">
<text x="0.53" y="0.00" font-size="47.24" textLength="30.38" lengthAdjust="spacingAndGlyphs" font-style="italic" stroke="#fff" stroke-width="0.35">E</text>
<text x="31.94" y="5.50" font-size="31.11" textLength="16.90" lengthAdjust="spacingAndGlyphs" font-style="italic" stroke="#fff" stroke-width="0.5">V</text>
<path d="M67.3 -34.2Q46.6 -12.6 67.3 9Q50.8 -12.6 67.3 -34.2z" fill="#000" stroke="#000" stroke-width="0.5"/>
<text x="68.91" y="-0.50" font-size="41.08" textLength="19.09" lengthAdjust="spacingAndGlyphs" font-style="italic" stroke="#fff" stroke-width="0.8">r</text>
<path d="M90.3 -34.2Q111 -12.6 90.3 9Q106.8 -12.6 90.3 -34.2z" fill="#000" stroke="#000" stroke-width="0.5"/>
</g>
<text x="197.67" y="323.70" font-size="26" textLength="133.81" lengthAdjust="spacingAndGlyphs" stroke-width="0.3">Overlapping</text>
<text x="339.68" y="323.70" font-size="26" textLength="13.96" lengthAdjust="spacingAndGlyphs" font-style="italic" stroke-width="0.3">ϕ</text>
<path d="M361.8 313.1H378.7M361.8 318.3H378.7" stroke="#000" stroke-width="1.1" fill="none"/>
<text x="386.81" y="323.70" font-size="26" textLength="57.93" lengthAdjust="spacingAndGlyphs" stroke-width="0.3">0.636</text>
<text x="200.43" y="358.90" font-size="26" textLength="129.20" lengthAdjust="spacingAndGlyphs" stroke-width="0.3">Equilibrium</text>
<text x="339.68" y="358.90" font-size="26" textLength="13.96" lengthAdjust="spacingAndGlyphs" font-style="italic" stroke-width="0.3">ϕ</text>
<path d="M361.8 348.3H378.7M361.8 353.5H378.7" stroke="#000" stroke-width="1.1" fill="none"/>
<text x="386.81" y="358.90" font-size="26" textLength="58.19" lengthAdjust="spacingAndGlyphs" stroke-width="0.3">0.478</text>
<text x="217.87" y="394.10" font-size="26" textLength="111.01" lengthAdjust="spacingAndGlyphs" stroke-width="0.3">MRJ (TJ)</text>
<text x="339.68" y="394.10" font-size="26" textLength="13.96" lengthAdjust="spacingAndGlyphs" font-style="italic" stroke-width="0.3">ϕ</text>
<path d="M361.8 383.5H378.7M361.8 388.7H378.7" stroke="#000" stroke-width="1.1" fill="none"/>
<text x="386.81" y="394.10" font-size="26" textLength="57.93" lengthAdjust="spacingAndGlyphs" stroke-width="0.3">0.636</text>
<text x="131.92" y="429.30" font-size="26" textLength="199.22" lengthAdjust="spacingAndGlyphs" stroke-width="0.3">Donev et al., 2005</text>
<text x="339.68" y="429.30" font-size="26" textLength="13.96" lengthAdjust="spacingAndGlyphs" font-style="italic" stroke-width="0.3">ϕ</text>
<path d="M361.8 418.7H378.7M361.8 423.9H378.7" stroke="#000" stroke-width="1.1" fill="none"/>
<text x="386.81" y="429.30" font-size="26" textLength="57.68" lengthAdjust="spacingAndGlyphs" stroke-width="0.3">0.644</text>
<text x="279.22" y="464.50" font-size="26" textLength="51.25" lengthAdjust="spacingAndGlyphs" stroke-width="0.3">FCC</text>
<text x="339.68" y="464.50" font-size="26" textLength="13.96" lengthAdjust="spacingAndGlyphs" font-style="italic" stroke-width="0.3">ϕ</text>
<path d="M361.8 453.9H378.7M361.8 459.1H378.7" stroke="#000" stroke-width="1.1" fill="none"/>
<text x="386.81" y="464.50" font-size="26" textLength="58.19" lengthAdjust="spacingAndGlyphs" stroke-width="0.3">0.740</text>
<text x="278.25" y="499.70" font-size="26" textLength="52.29" lengthAdjust="spacingAndGlyphs" stroke-width="0.3">BCC</text>
<text x="339.68" y="499.70" font-size="26" textLength="13.96" lengthAdjust="spacingAndGlyphs" font-style="italic" stroke-width="0.3">ϕ</text>
<path d="M361.8 489.1H378.7M361.8 494.3H378.7" stroke="#000" stroke-width="1.1" fill="none"/>
<text x="386.81" y="499.70" font-size="26" textLength="58.19" lengthAdjust="spacingAndGlyphs" stroke-width="0.3">0.680</text>
</g>
<path d="M464.4 314.6H504.3M464.4 310.70000000000005v7.8M504.3 310.70000000000005v7.8M484.5 307.90000000000003v13.4" stroke="#000" stroke-width="1.45" fill="none"/>
<path d="M464.4 349.8H504.3M464.4 345.90000000000003v7.8M504.3 345.90000000000003v7.8" stroke="#00008b" stroke-width="1.5" fill="none"/><circle cx="484.5" cy="349.8" r="6.6" fill="none" stroke="#00008b" stroke-width="1.6"/>
<path d="M464.4 385.0H504.3M464.4 381.1v7.8M504.3 381.1v7.8M477.8 378.3h13.4v13.4h-13.4z" stroke="#ff0000" stroke-width="1.6" fill="none"/>
<path d="M477.7 420.20000000000005L484.5 413.40000000000003L491.3 420.20000000000005L484.5 427.00000000000006zM483.9 420.20000000000005h1.2" stroke="#c080ff" stroke-width="1.5" fill="none"/>
<path d="M465.09999999999997 455.40000000000003H504.3" stroke="#00ced1" stroke-width="2.8" stroke-dasharray="12.2 3.7 2.7 3.2" fill="none"/>
<path d="M465.09999999999997 490.6H504.3" stroke="#2e8b57" stroke-width="2.8" stroke-dasharray="2.3 3.7 12 4 2 3.8 2 4.4 12 4" fill="none"/>
<path d="M310.5 272.5v-7.5M310.5 68.8v7.5M437.7 272.5v-7.5M437.7 68.8v7.5M194 116.3h7.5M448 116.3h-7.5M194 252.5h7.5M448 252.5h-7.5" stroke="#000" stroke-width="2.4" fill="none"/>
<g fill="none" stroke="#c080ff"><path d="M209.7 69.2L216.5 62.4L223.3 69.2L216.5 76zM214.3 76.9L221.1 70.1L227.9 76.9L221.1 83.7zM218.9 84.2L225.7 77.4L232.5 84.2L225.7 91zM223.6 91.5L230.4 84.7L237.2 91.5L230.4 98.3zM228.6 98.5L235.4 91.7L242.2 98.5L235.4 105.3zM233.2 105.8L240 99L246.8 105.8L240 112.6zM238.3 113.1L245.1 106.3L251.9 113.1L245.1 119.9zM243.2 120.5L250 113.7L256.8 120.5L250 127.3zM248.2 128.2L255 121.4L261.8 128.2L255 135zM253.3 136L260.1 129.2L266.9 136L260.1 142.8zM258.3 144.3L265.1 137.5L271.9 144.3L265.1 151.1zM263.4 152.5L270.2 145.7L277 152.5L270.2 159.3zM268.4 160.8L275.2 154L282 160.8L275.2 167.6zM273.3 168.9L280.1 162.1L286.9 168.9L280.1 175.7zM278 177.5L284.8 170.7L291.6 177.5L284.8 184.3zM283.2 186.1L290 179.3L296.8 186.1L290 192.9zM287.8 195L294.6 188.2L301.4 195L294.6 201.8zM292.5 203.8L299.3 197L306.1 203.8L299.3 210.6zM297.6 212.5L304.4 205.7L311.2 212.5L304.4 219.3zM302.5 221.1L309.3 214.3L316.1 221.1L309.3 227.9zM307.6 229.5L314.4 222.7L321.2 229.5L314.4 236.3zM312.8 238.6L319.6 231.8L326.4 238.6L319.6 245.4zM317.7 248.2L324.5 241.4L331.3 248.2L324.5 255zM322.8 256.8L329.6 250L336.4 256.8L329.6 263.6zM327.5 266.8L334.3 260L341.1 266.8L334.3 273.6z" stroke-width="1.3"/><path d="M215.9 69.2h1.2M220.5 76.9h1.2M225.1 84.2h1.2M229.8 91.5h1.2M234.8 98.5h1.2M239.4 105.8h1.2M244.5 113.1h1.2M249.4 120.5h1.2M254.4 128.2h1.2M259.5 136h1.2M264.5 144.3h1.2M269.6 152.5h1.2M274.6 160.8h1.2M279.5 168.9h1.2M284.2 177.5h1.2M289.4 186.1h1.2M294 195h1.2M298.7 203.8h1.2M303.8 212.5h1.2M308.7 221.1h1.2M313.8 229.5h1.2M319 238.6h1.2M323.9 248.2h1.2M329 256.8h1.2M333.7 266.8h1.2" stroke-width="1.2"/></g>
<g fill="none" stroke="#8b0000"><path d="M242.4 71.6h13.4v13.4h-13.4zM252.5 83.5h13.4v13.4h-13.4zM262.2 96.7h13.4v13.4h-13.4zM271.8 110.1h13.4v13.4h-13.4zM280.9 123.3h13.4v13.4h-13.4zM290.5 138h13.4v13.4h-13.4zM299.6 153.1h13.4v13.4h-13.4zM309 169.5h13.4v13.4h-13.4zM318.8 185.8h13.4v13.4h-13.4zM328.1 202.9h13.4v13.4h-13.4zM337.7 220.2h13.4v13.4h-13.4zM347 236h13.4v13.4h-13.4zM356.8 258.2h13.4v13.4h-13.4z" stroke-width="1.3"/><path d="M245.4 78.3h7.4M255.5 90.2h7.4M265.2 103.4h7.4M274.8 116.8h7.4M283.9 130h7.4M293.5 144.7h7.4M302.6 159.8h7.4M312.5 175.24h6.4M312.5 177.16h6.4M315.7 175.24v1.91M322.3 190.95h6.4M322.3 194.05h6.4M325.5 190.95v3.1M331.6 207.42h6.4M331.6 211.78h6.4M334.8 207.42v4.35M341.2 224.09h6.4M341.2 229.71h6.4M344.4 224.09v5.62M350.5 239.31h6.4M350.5 246.09h6.4M353.7 239.31v6.77M360.3 260.7h6.4M360.3 269.1h6.4M363.5 260.7v8.39" stroke-width="1.4"/></g>
<g fill="none" stroke="#ff4500"><path d="M251.2 67h13.4v13.4h-13.4zM261.1 79h13.4v13.4h-13.4zM270.8 90.9h13.4v13.4h-13.4zM280 102.4h13.4v13.4h-13.4zM289.7 113.8h13.4v13.4h-13.4zM298.3 126.6h13.4v13.4h-13.4zM308.3 138h13.4v13.4h-13.4zM317.6 151.5h13.4v13.4h-13.4zM327 164.3h13.4v13.4h-13.4zM336.5 177h13.4v13.4h-13.4zM345.9 188.6h13.4v13.4h-13.4zM355.2 201.7h13.4v13.4h-13.4zM365 215h13.4v13.4h-13.4zM374.3 229h13.4v13.4h-13.4zM383.7 245.4h13.4v13.4h-13.4zM393.5 258.2h13.4v13.4h-13.4z" stroke-width="1.3"/><path d="M254.2 73.7h7.4M264.1 85.7h7.4M273.8 97.6h7.4M283 109.1h7.4M292.7 120.5h7.4M301.3 133.3h7.4M311.3 144.7h7.4M320.6 158.2h7.4M330 171h7.4M340 182.47h6.4M340 184.93h6.4M343.2 182.47v2.46M349.4 193.65h6.4M349.4 196.95h6.4M352.6 193.65v3.31M358.7 206.27h6.4M358.7 210.53h6.4M361.9 206.27v4.27M368.5 219.08h6.4M368.5 224.32h6.4M371.7 219.08v5.24M377.8 232.57h6.4M377.8 238.83h6.4M381 232.57v6.26M387.2 248.37h6.4M387.2 255.83h6.4M390.4 248.37v7.46M397 260.7h6.4M397 269.1h6.4M400.2 260.7v8.39" stroke-width="1.4"/></g>
<rect x="194" y="68.8" width="254" height="203.7" fill="none" stroke="#000" stroke-width="2.5"/>
<path d="M300.2 93.4H276" stroke="#000" stroke-width="3.7" fill="none"/><path d="M269.9 93.4L278.2 90.6V96.2z" fill="#000" stroke="#000" stroke-width="1.6" stroke-linejoin="round"/>
<path d="M315.4 117.9H301" stroke="#000" stroke-width="3.5" fill="none"/><path d="M297.8 117.9L302.2 115.9V119.9z" fill="#000" stroke="#000" stroke-width="1.5" stroke-linejoin="round"/>
<path d="M280.0 221.6L291 212.6" stroke="#000" stroke-width="3.8" fill="none"/><path d="M292.6 211L286.3 213.2L290.4 217.6z" fill="#000" stroke="#000" stroke-width="1"/>
<g style="font-family:'Liberation Serif',serif">
<text x="288.97" y="295.00" font-size="25.6" textLength="32.96" lengthAdjust="spacingAndGlyphs">0.9</text>
<text x="426.57" y="295.00" font-size="25.6" textLength="10.95" lengthAdjust="spacingAndGlyphs">1</text>
<text x="137.47" y="129.10" font-size="25.6" textLength="25.37" lengthAdjust="spacingAndGlyphs">10</text>
<text x="178.16" y="119.80" font-size="17.5" textLength="10.00" lengthAdjust="spacingAndGlyphs">5</text>
<text x="137.47" y="265.40" font-size="25.6" textLength="25.37" lengthAdjust="spacingAndGlyphs">10</text>
<text x="177.87" y="256.10" font-size="17.5" textLength="10.00" lengthAdjust="spacingAndGlyphs">7</text>
<path d="M165 115.2H176.4M165 251.5H176.4" stroke="#000" stroke-width="1.05" fill="none"/>
<text x="319.11" y="98.20" font-size="20.2" textLength="58.70" lengthAdjust="spacingAndGlyphs" fill="#8b0000">0.6365</text>
<text x="334.00" y="122.60" font-size="20.2" textLength="59.22" lengthAdjust="spacingAndGlyphs" fill="#ff4500">0.6345</text>
<text x="218.80" y="240.90" font-size="20.2" textLength="48.55" lengthAdjust="spacingAndGlyphs" fill="#9672dc">0.644</text>
</g>
<path d="M302 86.5L315.2 93.05L302 99.6" stroke="#8b0000" stroke-width="1.15" fill="none"/>
<path d="M330.2 111.2L317.2 117.75L330.2 124.3" stroke="#ff4500" stroke-width="1.15" fill="none"/>
</svg></body></html>
